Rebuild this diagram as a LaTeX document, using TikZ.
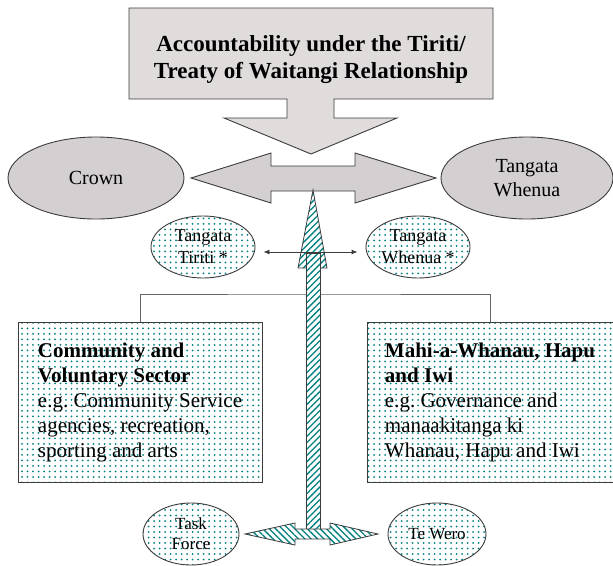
\documentclass[tikz,border=0pt]{standalone}
\usepackage{fontspec}
\setmainfont{Liberation Serif}
\usetikzlibrary{shapes.geometric,patterns.meta,arrows.meta}

\definecolor{granite}{RGB}{224,220,220}
\definecolor{marble}{RGB}{212,207,208}
\definecolor{edge}{RGB}{60,60,60}
\definecolor{dotcol}{RGB}{0,128,128}

\tikzset{
  stone/.style={draw=edge,line width=0.9pt,fill=marble},
  dotfill/.style={draw=edge,line width=0.9pt,preaction={fill=white},
    pattern={Dots[distance=5.5pt,radius=1pt]},pattern color=dotcol},
  hatchfill/.style={draw=edge,line width=0.8pt,preaction={fill=white},
    pattern={Lines[angle=#1,distance=4.5pt,line width=1.3pt]},pattern color=dotcol},
  hatchfill/.default=45,
  party/.style={ellipse,stone,inner sep=0pt,minimum width=176pt,minimum height=82pt,
    align=center,font=\fontsize{20}{24}\selectfont},
  group/.style={ellipse,dotfill,inner sep=0pt,minimum width=104pt,minimum height=62pt,
    align=center,font=\fontsize{18}{22}\selectfont},
  sector/.style={rectangle,dotfill,minimum width=244pt,minimum height=160pt,
    align=left,font=\fontsize{21}{25}\selectfont},
  tree/.style={draw=gray!80!black,line width=0.9pt},
  link/.style={draw=edge,line width=0.9pt,{Latex[length=6pt,width=5pt]}-{Latex[length=6pt,width=5pt]}}
}

\begin{document}
\frenchspacing
\begin{tikzpicture}[x=1pt,y=-1pt]
  \useasboundingbox (0,0) rectangle (613,565);

  % heading with its arrow down
  \draw[stone,fill=granite] (129,8) -- (493,8) -- (493,99) -- (334,99) -- (334,118)
    -- (397,118) -- (311,154) -- (224,118) -- (287,118) -- (287,99) -- (129,99) -- cycle;
  \node[align=center,font=\fontsize{23}{27}\selectfont\bfseries] (head) at (311,60)
    {Accountability under the Tiriti/\\Treaty of Waitangi Relationship};

  % the relationship arrow
  \draw[stone] (191,178) -- (271,153) -- (271,166) -- (355,166) -- (355,153) -- (436,178)
    -- (355,203) -- (355,191) -- (271,191) -- (271,203) -- cycle;

  \node[party] (crown) at (96,178) {Crown};
  \node[party,minimum width=172pt] (whenua) at (527,178) {Tangata\\Whenua};

  % tree down to the sectors
  \node[sector] (cvs) at (140,402)
    {\textbf{Community and}\\\textbf{Voluntary Sector}\\e.g. Community Service\\agencies, recreation,\\sporting and arts};
  \node[sector,minimum width=246pt] (mwh) at (490,402)
    {\textbf{Mahi-a-Whanau, Hapu}\\\textbf{and Iwi}\\e.g. Governance and\\manaakitanga ki\\Whanau, Hapu and Iwi};
  \coordinate (fork) at (313,294);
  \draw[tree] (cvs.north) |- (fork) -| (mwh.north);

  % hatched arrow up the middle
  \draw[hatchfill] (313,190) -- (327,268) -- (298,268) -- cycle;
  \draw[hatchfill] (306,253) rectangle (320,530);
  \draw[hatchfill=-45] (245,534) -- (295,523) -- (295,529) -- (330,529) -- (330,523)
    -- (378,534) -- (330,545) -- (330,539) -- (295,539) -- (295,545) -- cycle;

  \node[group] (tt) at (203,247) {Tangata\\Tiriti *};
  \node[group] (tw) at (418,247) {Tangata\\Whenua *};
  \draw[link] ([xshift=8pt,yshift=-5pt]tt.east) -- ([xshift=-8pt,yshift=-5pt]tw.west);

  \node[group,minimum width=96pt,font=\fontsize{17}{20}\selectfont]
    (task) at (191,534) {Task\\Force};
  \node[group,minimum width=98pt,font=\fontsize{17}{20}\selectfont]
    (wero) at (437,534) {Te Wero};
\end{tikzpicture}
\end{document}
